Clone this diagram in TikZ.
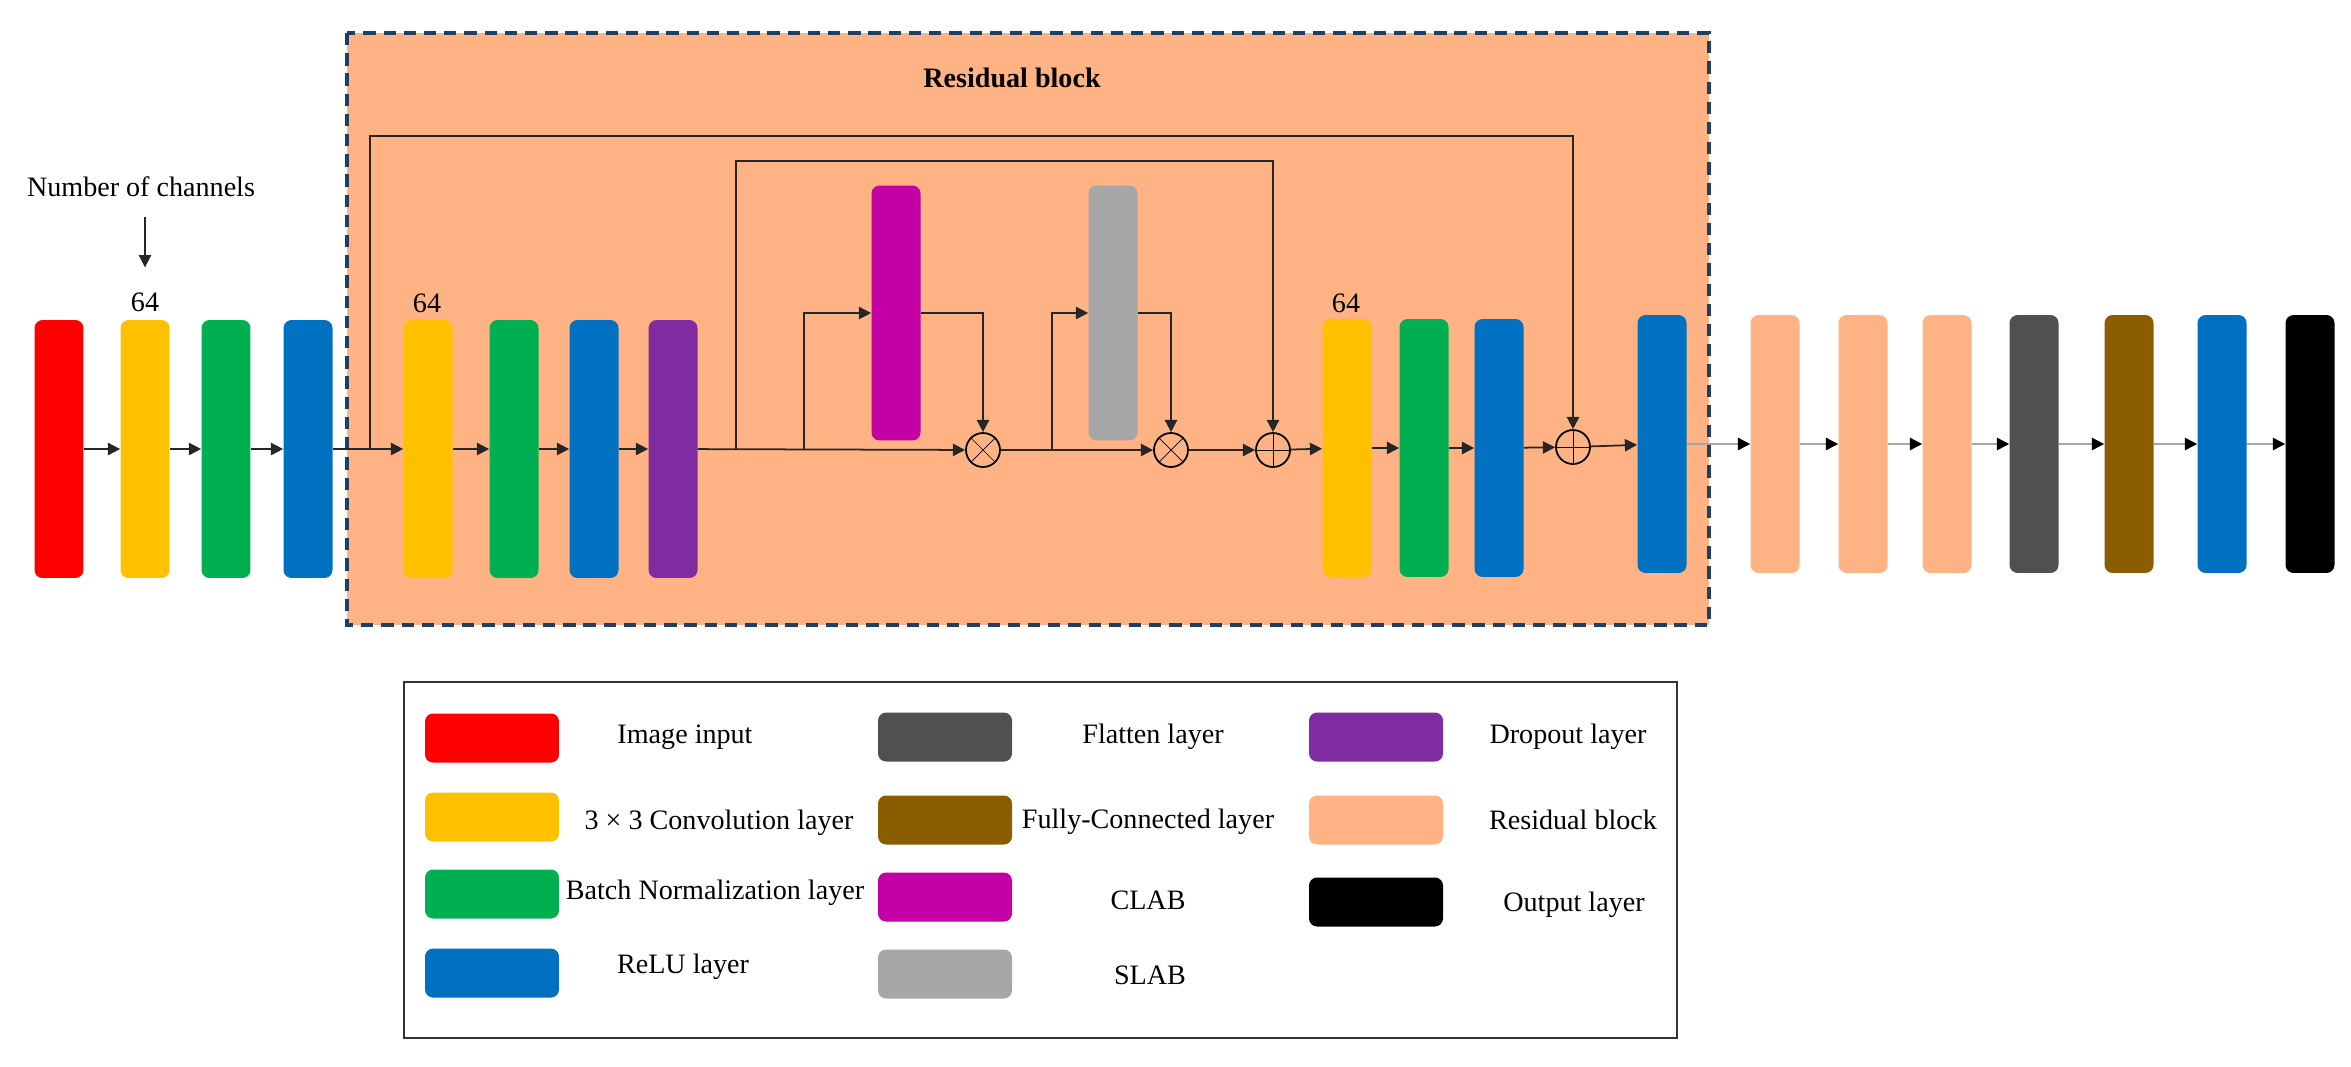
\documentclass[tikz,border=0pt]{standalone}
\usepackage{fontspec}
\setmainfont{Liberation Serif}
\usetikzlibrary{arrows.meta}

\definecolor{imgred}{HTML}{FF0000}
\definecolor{convyellow}{HTML}{FFC000}
\definecolor{bngreen}{HTML}{00B050}
\definecolor{relublue}{HTML}{0070C0}
\definecolor{droppurple}{HTML}{7F2CA0}
\definecolor{clabmagenta}{HTML}{C300A3}
\definecolor{slabgray}{HTML}{A6A6A6}
\definecolor{respeach}{HTML}{FFB385}
\definecolor{flatgray}{HTML}{505050}
\definecolor{fcbrown}{HTML}{8A5E00}
\definecolor{boxnavy}{HTML}{1F3F5F}

\begin{document}
\begin{tikzpicture}[x=0.02cm, y=-0.02cm,
    font=\fontsize{16}{19}\selectfont,
    barnode/.style={rectangle, rounded corners=0.16cm, minimum width=0.98cm, minimum height=5.16cm, inner sep=0pt},
    swatch/.style={rectangle, rounded corners=0.16cm, minimum width=2.68cm, minimum height=0.98cm, inner sep=0pt},
    opnode/.style={circle, draw=black, line width=1pt, minimum size=0.68cm, inner sep=0pt},
    flow/.style={line width=1pt, black!85, -{Triangle[length=7pt, width=7pt]}},
    flowgray/.style={line width=1pt, gray!70, -{Triangle[length=7pt, width=7pt, color=black]}}]
    \useasboundingbox (0,0) rectangle (2351,1066);

    \filldraw[fill=respeach, draw=boxnavy, line width=1.8pt, dash pattern=on 7pt off 4.5pt] (347,33) rectangle (1709,625);
    \node[font=\fontsize{16}{19}\selectfont\bfseries] (restitle) at (1012,78) {Residual block};

    \node (nch) at (141,187) {Number of channels};
    \node (n64a) at (145,302) {64};
    \node (n64b) at (427,303) {64};
    \node (n64c) at (1346,303) {64};
    \draw[flow, shorten <=0.28cm, shorten >=0.38cm] (nch.south -| n64a) -- (n64a.north);

    \node[barnode, fill=imgred] (red) at (59,449) {};
    \node[barnode, fill=convyellow] (yel1) at (145,449) {};
    \node[barnode, fill=bngreen] (grn1) at (226,449) {};
    \node[barnode, fill=relublue] (blu1) at (308,449) {};
    \node[barnode, fill=convyellow] (yel2) at (428,449) {};
    \node[barnode, fill=bngreen] (grn2) at (514,449) {};
    \node[barnode, fill=relublue] (blu2) at (594,449) {};
    \node[barnode, fill=droppurple] (pur) at (673,449) {};
    \node[barnode, fill=clabmagenta, minimum height=5.1cm] (clab) at (896,313) {};
    \node[barnode, fill=slabgray, minimum height=5.1cm] (slab) at (1113,313) {};
    \node[opnode] (ot1) at (983,450) {};
    \node[opnode] (ot2) at (1171,450) {};
    \node[opnode] (op1) at (1273,450) {};
    \node[barnode, fill=convyellow] (yel3) at (1347,448) {};
    \node[barnode, fill=bngreen] (grn3) at (1424,448) {};
    \node[barnode, fill=relublue] (blu3) at (1499,448) {};
    \node[opnode] (op2) at (1573,447) {};
    \node[barnode, fill=relublue] (blu4) at (1662,444) {};
    \node[barnode, fill=respeach] (res1) at (1775,444) {};
    \node[barnode, fill=respeach] (res2) at (1863,444) {};
    \node[barnode, fill=respeach] (res3) at (1947,444) {};
    \node[barnode, fill=flatgray] (flat) at (2034,444) {};
    \node[barnode, fill=fcbrown] (fc) at (2129,444) {};
    \node[barnode, fill=relublue] (blu5) at (2222,444) {};
    \node[barnode, fill=black] (out) at (2310,444) {};

    \draw (ot1.north east) -- (ot1.south west) (ot1.north west) -- (ot1.south east);
    \draw (ot2.north east) -- (ot2.south west) (ot2.north west) -- (ot2.south east);
    \draw (op1.north) -- (op1.south) (op1.west) -- (op1.east);
    \draw (op2.north) -- (op2.south) (op2.west) -- (op2.east);

    \coordinate (s1) at (370,450);
    \coordinate (s1top) at (370,136);
    \coordinate (s2) at (736,450);
    \coordinate (s2top) at (736,161);
    \coordinate (c1) at (804,450);
    \coordinate (c2) at (1052,450);

    \draw[flow] (red) -- (yel1);
    \draw[flow] (yel1) -- (grn1);
    \draw[flow] (grn1) -- (blu1);
    \draw[flow] (blu1) -- (yel2);
    \draw[flow] (yel2) -- (grn2);
    \draw[flow] (grn2) -- (blu2);
    \draw[flow] (blu2) -- (pur);
    \draw[flow] (pur) -- (ot1);
    \draw[flow] (ot1) -- (ot2);
    \draw[flow] (ot2) -- (op1);
    \draw[flow] (op1) -- (yel3);
    \draw[flow] (yel3) -- (grn3);
    \draw[flow] (grn3) -- (blu3);
    \draw[flow] (blu3) -- (op2);
    \draw[flow] (op2) -- (blu4);
    \draw[flowgray] (blu4) -- (res1);
    \draw[flowgray] (res1) -- (res2);
    \draw[flowgray] (res2) -- (res3);
    \draw[flowgray] (res3) -- (flat);
    \draw[flowgray] (flat) -- (fc);
    \draw[flowgray] (fc) -- (blu5);
    \draw[flowgray] (blu5) -- (out);

    \draw[flow] (s1) -- (s1top) -| (op2.north);
    \draw[flow] (s2) -- (s2top) -| (op1.north);
    \draw[flow] (c1) |- (clab.west);
    \draw[flow] (clab.east) -| (ot1.north);
    \draw[flow] (c2) |- (slab.west);
    \draw[flow] (slab.east) -| (ot2.north);

    \draw[black!80, line width=1.2pt] (404,682) rectangle (1677,1038);
    \node[swatch, fill=imgred] (kred) at (492,738) {};
    \node[swatch, fill=convyellow] (kyel) at (492,817) {};
    \node[swatch, fill=bngreen] (kgrn) at (492,894) {};
    \node[swatch, fill=relublue] (kblu) at (492,973) {};
    \node[swatch, fill=flatgray] (kflat) at (945,737) {};
    \node[swatch, fill=fcbrown] (kfc) at (945,820) {};
    \node[swatch, fill=clabmagenta] (kclab) at (945,897) {};
    \node[swatch, fill=slabgray] (kslab) at (945,974) {};
    \node[swatch, fill=droppurple] (kpur) at (1376,737) {};
    \node[swatch, fill=respeach] (kres) at (1376,820) {};
    \node[swatch, fill=black] (kout) at (1376,902) {};

    \node (limg) at (685,737) {Image input};
    \node (lconv) at (719,823) {3 × 3 Convolution layer};
    \node (lbn) at (715,893) {Batch Normalization layer};
    \node (lrelu) at (683,967) {ReLU layer};
    \node (lflat) at (1153,737) {Flatten layer};
    \node (lfc) at (1148,822) {Fully-Connected layer};
    \node (lclab) at (1148,900) {CLAB};
    \node (lslab) at (1150,975) {SLAB};
    \node (ldrop) at (1568,737) {Dropout layer};
    \node (lres) at (1573,820) {Residual block};
    \node (lout) at (1574,905) {Output layer};
\end{tikzpicture}
\end{document}
